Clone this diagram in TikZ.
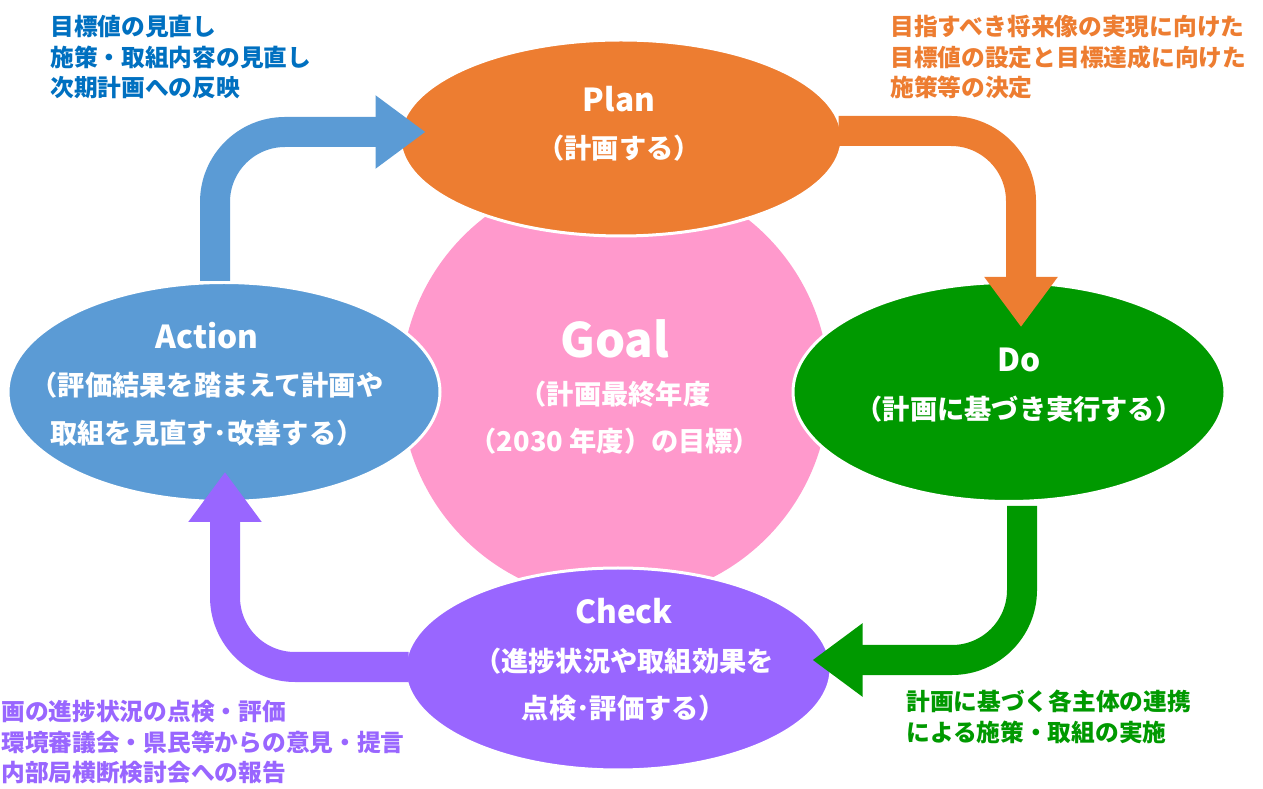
\documentclass[tikz,border=0pt]{standalone}
\usepackage{fontspec}
\setmainfont{Noto Sans CJK JP}
\usepackage{xcolor}
\usetikzlibrary{shapes.geometric,arrows.meta}

\definecolor{cplan}{HTML}{ED7D31}
\definecolor{cdo}{HTML}{009900}
\definecolor{ccheck}{HTML}{9966FF}
\definecolor{cact}{HTML}{5B9BD5}
\definecolor{cgoal}{HTML}{FF99CC}
\definecolor{cnote}{HTML}{0070C0}

\newcommand{\phasetitle}[1]{{\fontsize{18}{18}\selectfont #1}}

\begin{document}
\begin{tikzpicture}[
  phase/.style={ellipse,draw=white,line width=0.06cm,inner sep=0pt,minimum width=8.64cm,minimum height=4.38cm},
  ptext/.style={align=center,text=white,font=\bfseries\fontsize{15.5}{27}\selectfont},
  note/.style={anchor=north west,inner sep=0pt,align=left,font=\bfseries\fontsize{13.5}{17.3}\selectfont},
  flow/.style={line width=0.6cm,rounded corners=1.4cm,-{Triangle[length=1cm,width=1.4cm]}}
]
\clip (0,0) rectangle (25.26,15.76);

% goal in the middle
\node[circle,fill=cgoal,minimum size=8.56cm,ptext] (goal) at (12.30,8.02)
  {\fontsize{27}{27}\selectfont Goal\\（計画最終年度\\（2030 年度）の目標）};

% the four phases
\node[phase,fill=cplan,minimum width=8.84cm,minimum height=3.92cm] (plan) at (12.42,13.00) {};
\node[phase,fill=cdo] (do) at (20.18,7.92) {};
\node[phase,fill=ccheck,minimum width=8.52cm,minimum height=4.04cm] (check) at (12.36,2.38) {};
\node[phase,fill=cact] (act) at (4.48,7.92) {};

\node[ptext] (plan-t) at (12.38,13.28) {\phasetitle{Plan}\\（計画する）};
\node[ptext] (do-t) at (20.38,8.06) {\phasetitle{Do}\\（計画に基づき実行する）};
\node[ptext] (check-t) at (12.48,2.56) {\phasetitle{Check}\\（進捗状況や取組効果を\\点検･評価する）};
\node[ptext] (act-t) at (4.14,8.08) {\phasetitle{Action}\\（評価結果を踏まえて計画や\\取組を見直す･改善する）};

% cycle
\draw[flow,cact] ([xshift=-0.18cm]act.north) |- ([shift={(0.54,0.12)}]plan.west);
\draw[flow,cplan] ([shift={(-0.1,0.14)}]plan.east) -| ([shift={(0.24,-0.92)}]do.north);
\draw[flow,cdo] ([shift={(0.26,-0.06)}]do.south) |- ([shift={(-0.40,0.18)}]check.east);
\draw[flow,ccheck] ([shift={(0.1,0.04)}]check.west) -| ([shift={(0.02,0.62)}]act.south);

% notes
\node[note,text=cnote] (act-n) at (1.00,15.46) {目標値の見直し\\施策・取組内容の見直し\\次期計画への反映};
\node[note,text=cplan] (plan-n) at (17.80,15.46) {目指すべき将来像の実現に向けた\\目標値の設定と目標達成に向けた\\施策等の決定};
\node[note,text=cdo] (do-n) at (18.12,1.96) {計画に基づく各主体の連携\\による施策・取組の実施};
\node[note,text=ccheck] (check-n) at (0.02,1.76) {画の進捗状況の点検・評価\\環境審議会・県民等からの意見・提言\\内部局横断検討会への報告};
\end{tikzpicture}
\end{document}
